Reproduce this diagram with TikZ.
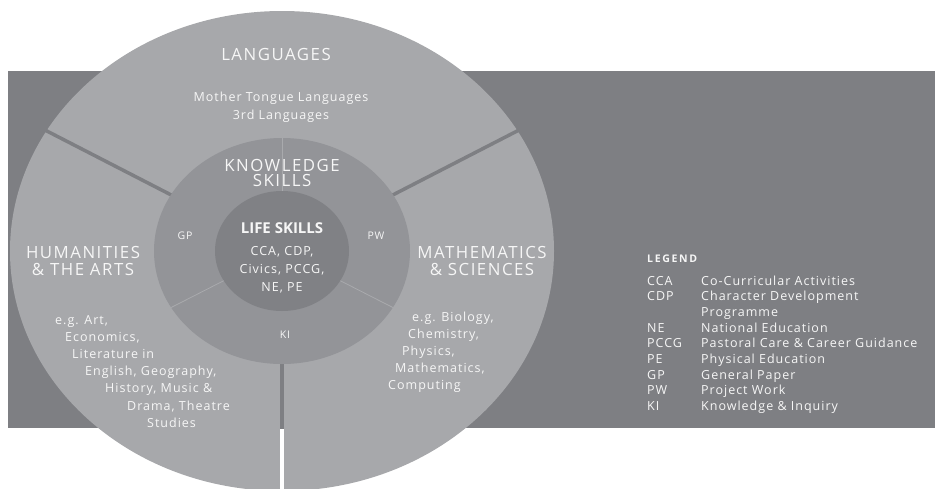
\documentclass[tikz,border=0pt]{standalone}
\usepackage{fontspec}
\setmainfont{Open Sans}
\newfontfamily\bodyfont[LetterSpace=8]{Open Sans}
\newfontfamily\titlefont[LetterSpace=9]{Open Sans}
\newfontfamily\legendfont[LetterSpace=16]{Open Sans}
\usetikzlibrary{positioning, calc}
\definecolor{bgDark}{HTML}{7E7F83}
\definecolor{outerFill}{HTML}{A7A8AB}
\definecolor{midFill}{HTML}{939498}
\definecolor{lifeFill}{HTML}{808185}
\definecolor{seamLine}{HTML}{A9AAAD}
\definecolor{txt}{HTML}{F6F6F6}
\tikzset{
    Title/.style = {text=txt, align=center, inner sep=0pt,
        font=\titlefont\fontsize{16.8}{16.5}\selectfont},
    Body/.style = {text=txt, inner sep=0pt,
        font=\bodyfont\fontsize{12.5}{18}\selectfont},
    Tag/.style = {text=txt, inner sep=0pt,
        font=\bodyfont\fontsize{10.5}{10}\selectfont},
    Gap/.style = {line width=3.5pt},
    Seam/.style = {draw=seamLine, line width=0.8pt}
}

\begin{document}
\begin{tikzpicture}[x=1pt, y=-1pt]
    \useasboundingbox (0,0) rectangle (935,488);
    \fill[bgDark] (8,71) rectangle (935,428);
    \coordinate (C) at (282,251);

    % outer ring and its three gaps
    \fill[outerFill] (C) ellipse [x radius=272pt, y radius=240pt];
    \foreach \a/\n in {30/r, 150/l, 270/b} {
        \coordinate (gapIn\n) at ($(C)+(\a:120pt and 105pt)$);
        \coordinate (gapOut\n) at ($(C)+(\a:276pt and 244pt)$);
    }
    \draw[Gap, white] (gapInb) -- (gapOutb);
    \begin{scope}
        \clip (8,71) rectangle (935,428);
        \draw[Gap, bgDark] (gapInr) -- (gapOutr);
        \draw[Gap, bgDark] (gapInl) -- (gapOutl);
        \draw[Gap, bgDark] (gapInb) -- (gapOutb);
    \end{scope}

    % knowledge skills ring
    \fill[midFill] (C) ellipse [x radius=128pt, y radius=113pt];
    \foreach \a/\n in {90/t, 210/l, 330/r} {
        \coordinate (seam\n) at ($(C)+(\a:128pt and 113pt)$);
        \draw[Seam] (C) -- (seam\n);
    }

    % life skills
    \fill[lifeFill] (C) ellipse [x radius=67pt, y radius=60pt];

    \node[Title] (lang) at (276,54) {LANGUAGES};
    \node[Body, align=center] (langList) at (281,107)
        {Mother Tongue Languages\\3rd Languages};
    \node[Title, font=\titlefont\fontsize{16.8}{15.5}\selectfont] (know) at (282,173) {KNOWLEDGE\\SKILLS};
    \node[Title, font=\fontsize{15}{16}\selectfont\bfseries] (life) at (282,228) {LIFE SKILLS};
    \node[Body, align=center] (lifeList) at (282,270)
        {CCA, CDP,\\Civics, PCCG,\\NE, PE};
    \node[Tag] (gp) at (185,236) {GP};
    \node[Tag] (pw) at (376,236) {PW};
    \node[Tag] (ki) at (285,335) {KI};

    \node[Title] (hum) at (83,261) {HUMANITIES\\\& THE ARTS};
    \node[Title] (math) at (482,261) {MATHEMATICS\\\& SCIENCES};

    % example subjects, one line each
    \foreach \x/\t [count=\i from 0] in {55/{e.g. Art,}, 65/{Economics,},
        72/{Literature in}, 85/{English, Geography,}, 105/{History, Music \&},
        127/{Drama, Theatre}, 147/{Studies}}
        \node[Body, anchor=base west] (hum\i) at (\x,324+17.2*\i) {\t};
    \foreach \x/\t [count=\i from 0] in {412/{e.g. Biology,}, 408/{Chemistry,},
        402/{Physics,}, 395/{Mathematics,}, 388/{Computing}}
        \node[Body, anchor=base west] (math\i) at (\x,321+17*\i) {\t};

    % legend
    \node[Tag, anchor=base west, font=\legendfont\fontsize{10.5}{10}\selectfont\bfseries]
        (legend) at (647,262) {LEGEND};
    \foreach \ab/\de [count=\i from 0] in {CCA/{Co-Curricular Activities},
        CDP/{Character Development}, {}/{Programme}, NE/{National Education},
        PCCG/{Pastoral Care \& Career Guidance}, PE/{Physical Education},
        GP/{General Paper}, PW/{Project Work}, KI/{Knowledge \& Inquiry}} {
        \node[Body, anchor=base west] (ab\i) at (647,285+15.7*\i) {\ab};
        \node[Body, anchor=base west] (de\i) at (701,285+15.7*\i) {\de};
    }
\end{tikzpicture}
\end{document}
